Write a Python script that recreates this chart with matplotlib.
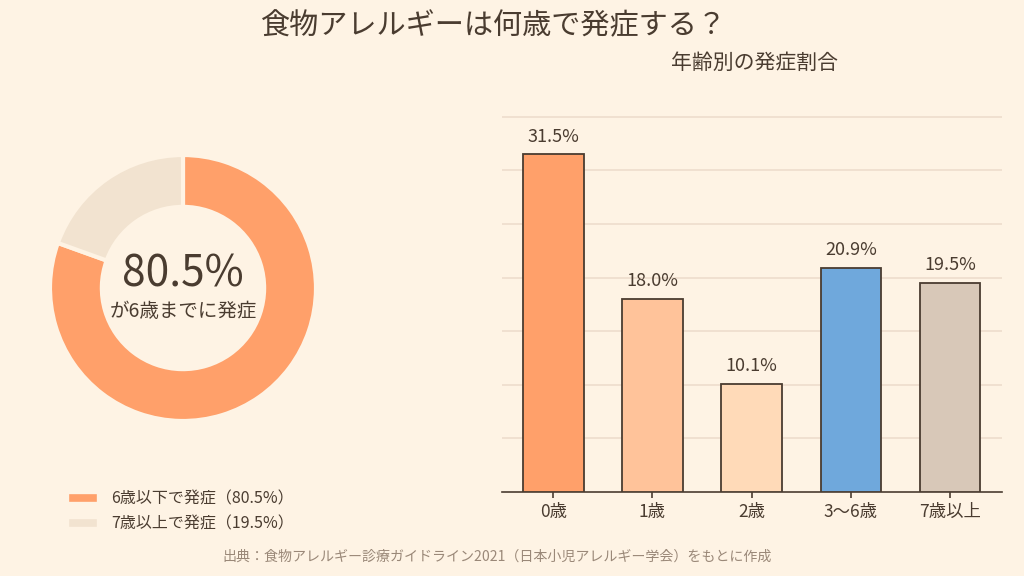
import numpy as np
import matplotlib
matplotlib.use("Agg")
import matplotlib.pyplot as plt
from matplotlib.lines import Line2D

plt.rcParams['font.family'] = ['Noto Sans CJK JP', 'DejaVu Sans']

# データ
donut_labels = ["6歳以下で発症（80.5%）", "7歳以上で発症（19.5%）"]
donut_values = [80.5, 19.5]
ages = ["0歳", "1歳", "2歳", "3〜6歳", "7歳以上"]
rates = [31.5, 18.0, 10.1, 20.9, 19.5]

bg = "#FEF3E4"
txt = "#4A3C30"
donut_colors = ["#FFA06A", "#F2E3D0"]
bar_colors = ["#FFA06A", "#FFC39A", "#FFDAB8", "#6FA8DC", "#D8C8B8"]

fig = plt.figure(figsize=(10.24, 5.76), dpi=100, facecolor=bg)

# ドーナツ
ax1 = fig.add_axes([0.0488, 0.2691, 0.2598, 0.4618])
ax1.set_facecolor(bg)
wedges, _ = ax1.pie(donut_values, colors=donut_colors, startangle=90, counterclock=False,
                    radius=1.0, wedgeprops=dict(width=0.39, edgecolor=bg, linewidth=3))
ax1.set_xlim(-1, 1)
ax1.set_ylim(-1, 1)
ax1.set_aspect('equal')
ax1.text(0, 0.10, f"{donut_values[0]}%", ha='center', va='center', fontsize=30.5, color=txt)
ax1.text(0, -0.18, "が6歳までに発症", ha='center', va='center', fontsize=14, color=txt)

handles = [Line2D([0], [0], color=c, lw=5.5) for c in donut_colors]
fig.legend(handles, donut_labels, loc='upper left', bbox_to_anchor=(0.0715, 0.149),
           frameon=False, fontsize=11.5, labelcolor=txt, handlelength=1.25, handletextpad=1.15,
           labelspacing=0.5, borderaxespad=0, borderpad=0, bbox_transform=fig.transFigure)

# 棒グラフ
ax2 = fig.add_axes([0.490, 0.146, 0.489, 0.670])
ax2.set_facecolor(bg)
x = np.arange(len(ages))
ax2.bar(x, rates, width=0.61, color=bar_colors, edgecolor=txt, linewidth=1.3, zorder=3)
for xi, v in zip(x, rates):
    ax2.text(xi, v + 1.65, f"{v:.1f}%", ha='center', va='center', fontsize=13, color=txt)
ax2.set_xlim(-0.52, 4.53)
ax2.set_ylim(0, 36)
ax2.set_yticks(np.arange(5, 40, 5))
ax2.yaxis.grid(True, color="#EEDDCC", linewidth=1.2, zorder=0)
ax2.tick_params(axis='y', left=False, labelleft=False)
ax2.set_xticks(x)
ax2.set_xticklabels(ages, fontsize=12.5, color=txt)
ax2.tick_params(axis='x', color=txt, length=4, width=1.2, pad=4)
for s in ['top', 'right', 'left']:
    ax2.spines[s].set_visible(False)
ax2.spines['bottom'].set_color(txt)
ax2.spines['bottom'].set_linewidth(1.2)

fig.text(0.482, 0.955, "食物アレルギーは何歳で発症する？", ha='center', va='center', fontsize=21, color=txt)
fig.text(0.737, 0.891, "年齢別の発症割合", ha='center', va='center', fontsize=15, color=txt)
fig.text(0.485, 0.033, "出典：食物アレルギー診療ガイドライン2021（日本小児アレルギー学会）をもとに作成",
         ha='center', va='center', fontsize=10.1, color="#9A8878")

fig.savefig("out.png", dpi=100, facecolor=bg)
